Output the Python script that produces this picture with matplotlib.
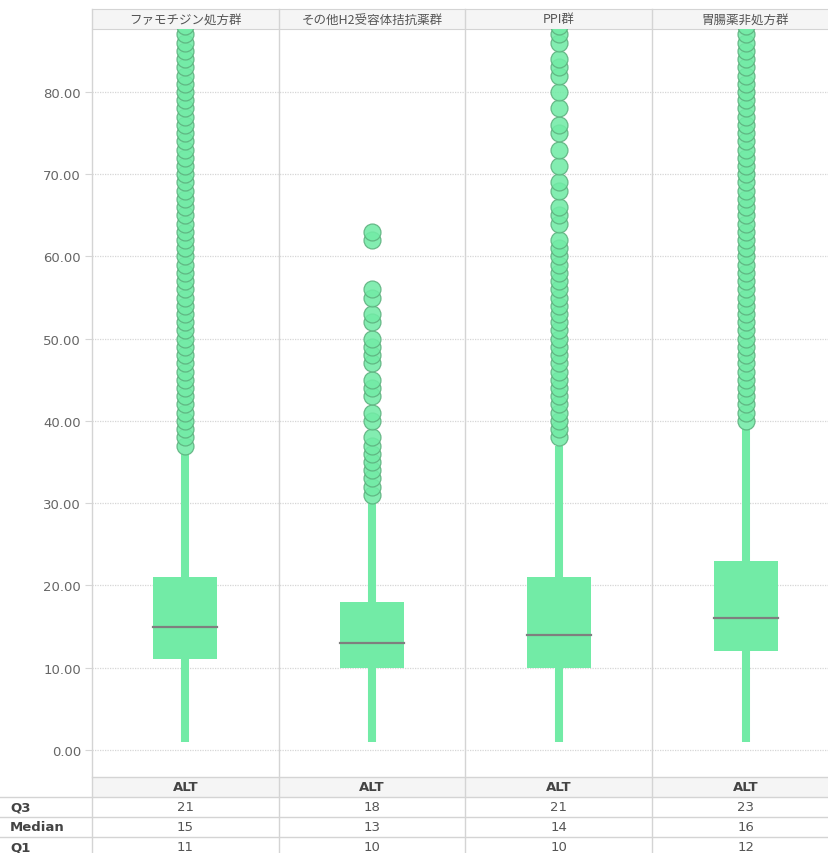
import matplotlib
matplotlib.use("Agg")
import matplotlib.pyplot as plt
from matplotlib.patches import Rectangle

plt.rcParams['font.family'] = ['Noto Sans CJK JP', 'DejaVu Sans']

# ---- data -------------------------------------------------------------
groups = ["ファモチジン処方群", "その他H2受容体拮抗薬群", "PPI群", "胃腸薬非処方群"]
measure = "ALT"
q1 = [11, 10, 10, 12]
median = [15, 13, 14, 16]
q3 = [21, 18, 21, 23]
whisker_low = [1, 1, 1, 1]
whisker_high = [36, 30, 37, 39]

outliers_famotidine = [37, 38, 39, 40, 41, 42, 43, 44, 45, 46, 47, 48, 49, 50,
                       51, 52, 53, 54, 55, 56, 57, 58, 59, 60, 61, 62, 63, 64,
                       65, 66, 67, 68, 69, 70, 71, 72, 73, 74, 75, 76, 77, 78,
                       79, 80, 81, 82, 83, 84, 85, 86, 87, 88]
outliers_other_h2 = [31, 32, 33, 34, 35, 36, 37, 38, 40, 41, 43, 44, 45, 47,
                     48, 49, 50, 52, 53, 55, 56, 62, 63]
outliers_ppi = [38, 39, 40, 41, 42, 43, 44, 45, 46, 47, 48, 49, 50, 51, 52,
                53, 54, 55, 56, 57, 58, 59, 60, 61, 62, 64, 65, 66, 68, 69,
                71, 73, 75, 76, 78, 80, 82, 83, 84, 86, 87, 88]
outliers_none = [40, 41, 42, 43, 44, 45, 46, 47, 48, 49, 50, 51, 52, 53, 54,
                 55, 56, 57, 58, 59, 60, 61, 62, 63, 64, 65, 66, 67, 68, 69,
                 70, 71, 72, 73, 74, 75, 76, 77, 78, 79, 80, 81, 82, 83, 84,
                 85, 86, 87, 88]
outliers = [outliers_famotidine, outliers_other_h2, outliers_ppi, outliers_none]

y_ticks = [0, 10, 20, 30, 40, 50, 60, 70, 80]

# ---- style ------------------------------------------------------------
W, H = 829, 854
BOX_GREEN = "#72EBA6"
DOT_EDGE = "#5DB07E"
GRID = "#D6D6D6"
BORDER = "#D4D4D4"
TEXT = "#666666"
HEADER_BG = "#F5F5F5"

fig = plt.figure(figsize=(W / 100, H / 100), dpi=100)

# pixel-based layout
plot_left, plot_right = 92, 839
plot_top, plot_bottom = 30, 778
header_top = 10
row_h = 20

# ---- overlay for header, separators and summary table ------------------
ov = fig.add_axes([0, 0, 1, 1], zorder=0)
ov.set_xlim(0, W)
ov.set_ylim(H, 0)
ov.axis('off')

ax = fig.add_axes([plot_left / W, (H - plot_bottom) / H,
                   (plot_right - plot_left) / W, (plot_bottom - plot_top) / H],
                  zorder=1)
ax.patch.set_alpha(0)
ax.set_xlim(-0.5, len(groups) - 0.5)
ax.set_ylim(-3.3, 87.66)
for s in ax.spines.values():
    s.set_visible(False)
ax.set_xticks([])
ax.set_yticks(y_ticks)
ax.set_yticklabels([f"{v:.2f}" for v in y_ticks], color=TEXT, fontsize=9.5,
                   family=['DejaVu Sans'])
ax.tick_params(axis='y', length=5, color=GRID, pad=3)
ax.grid(axis='y', color=GRID, linestyle=(0, (1, 1)), linewidth=0.9)
ax.set_axisbelow(True)

box_w = 0.343
for i in range(len(groups)):
    ax.plot([i, i], [whisker_low[i], whisker_high[i]], color=BOX_GREEN,
            linewidth=5.8, solid_capstyle='butt', zorder=2)
    ax.add_patch(Rectangle((i - box_w / 2, q1[i]), box_w, q3[i] - q1[i],
                           facecolor=BOX_GREEN, edgecolor='none', zorder=3))
    ax.plot([i - box_w / 2, i + box_w / 2], [median[i], median[i]],
            color="#7F7F7F", linewidth=1.6, zorder=4)
    ax.plot([i] * len(outliers[i]), outliers[i], linestyle='none', marker='o',
            markersize=12.2, markerfacecolor=BOX_GREEN, markeredgecolor=DOT_EDGE,
            markeredgewidth=0.9, alpha=0.88, zorder=5, clip_on=True)

col_w = (plot_right - plot_left) / len(groups)
col_edges = [plot_left + k * col_w for k in range(len(groups) + 1)]

# column header band
ov.add_patch(Rectangle((plot_left, header_top), plot_right - plot_left,
                       plot_top - header_top, facecolor=HEADER_BG,
                       edgecolor='none'))
ov.plot([plot_left, plot_right], [header_top, header_top], color=BORDER, lw=0.8)
ov.plot([plot_left, plot_right], [plot_top, plot_top], color=BORDER, lw=0.8)

# measure header row of the table
ov.add_patch(Rectangle((plot_left, plot_bottom), plot_right - plot_left,
                       row_h, facecolor=HEADER_BG, edgecolor='none'))

# vertical separators
for x in col_edges[:-1]:
    ov.plot([x, x], [header_top, H], color=BORDER, lw=1.0)

# horizontal table lines
for k in range(4):
    y = plot_bottom + k * row_h
    ov.plot([0 if k >= 1 else plot_left, plot_right], [y, y], color=BORDER, lw=1.0)

for i, name in enumerate(groups):
    cx = (col_edges[i] + col_edges[i + 1]) / 2
    ov.text(cx, (header_top + plot_top) / 2, name, ha='center', va='center',
            fontsize=9, color="#555555")
    ov.text(cx, plot_bottom + row_h / 2, measure, ha='center', va='center',
            fontsize=9.5, color="#444444", fontweight='bold',
            family=['DejaVu Sans'])

row_labels = ["Q3", "Median", "Q1"]
row_values = [q3, median, q1]
for r, (lab, vals) in enumerate(zip(row_labels, row_values)):
    yc = plot_bottom + (r + 1.5) * row_h
    ov.text(10, yc, lab, ha='left', va='center', fontsize=9.5,
            color="#444444", fontweight='bold', family=['DejaVu Sans'])
    for i, v in enumerate(vals):
        cx = (col_edges[i] + col_edges[i + 1]) / 2
        ov.text(cx, yc, str(v), ha='center', va='center', fontsize=9.5,
                color="#555555", family=['DejaVu Sans'])

fig.savefig("out.png", dpi=100, facecolor='white')
